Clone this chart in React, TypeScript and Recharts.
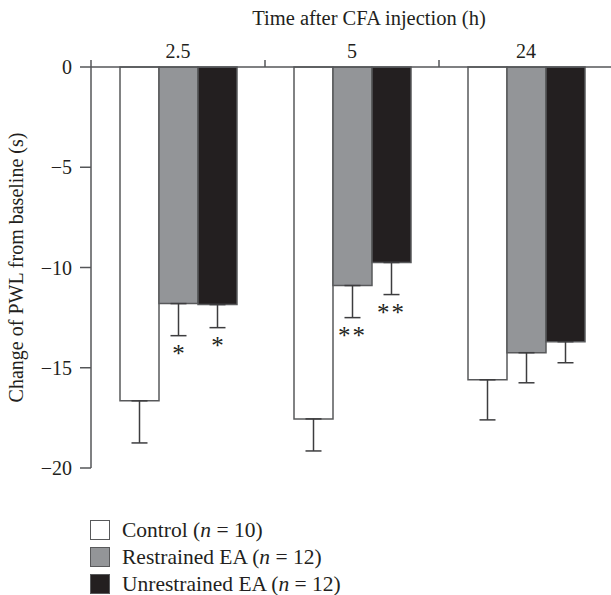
import React from 'react';
import { BarChart, Bar, XAxis, YAxis, ErrorBar, LabelList } from 'recharts';

const times = ['2.5', '5', '24'];
const controlMean = [-16.65, -17.55, -15.6];
const controlSE = [2.1, 1.6, 2.0];
const restrainedMean = [-11.8, -10.9, -14.25];
const restrainedSE = [1.6, 1.6, 1.5];
const unrestrainedMean = [-11.85, -9.75, -13.7];
const unrestrainedSE = [1.15, 1.6, 1.05];
const restrainedSig = ['*', '**', ''];
const unrestrainedSig = ['*', '**', ''];
const yTicks = [0, -5, -10, -15, -20];

const seriesInfo = [
  { key: 'control', label: 'Control', n: 10, fill: '#ffffff' },
  { key: 'restrained', label: 'Restrained EA', n: 12, fill: '#939598' },
  { key: 'unrestrained', label: 'Unrestrained EA', n: 12, fill: '#231f20' },
];

const data = times.map((t, i) => ({
  time: t,
  control: controlMean[i],
  controlErr: [controlSE[i], 0],
  restrained: restrainedMean[i],
  restrainedErr: [restrainedSE[i], 0],
  restrainedSig: restrainedSig[i],
  unrestrained: unrestrainedMean[i],
  unrestrainedErr: [unrestrainedSE[i], 0],
  unrestrainedSig: unrestrainedSig[i],
}));

const FONT = '"Liberation Serif", "DejaVu Serif", serif';
const TEXT = '#231f20';
const AXIS = '#555658';
const BORDER = '#58595b';

const makeSigLabel = (valueKey: string, seArr: number[]) => (props: any) => {
  const { x, y, width, height, value, index } = props;
  if (!value) return null;
  const v = (data as any)[index][valueKey];
  const top = Math.min(y, y + height);
  const bottom = Math.max(y, y + height);
  const pxPerUnit = (bottom - top) / Math.abs(v);
  const errEnd = bottom + seArr[index] * pxPerUnit;
  return (
    <text
      x={x + width / 2}
      y={errEnd + 26}
      textAnchor="middle"
      fontFamily={FONT}
      fontSize={25}
      fill={TEXT}
      letterSpacing={value.length > 1 ? 2 : 0}
    >
      {value}
    </text>
  );
};

const CatTick = (props: any) => {
  const { x, y, payload } = props;
  const half = payload && typeof payload.offset === 'number' ? payload.offset : 87;
  return (
    <g>
      <text x={x} y={y} textAnchor="middle" fontFamily={FONT} fontSize={20} fill={TEXT}>
        {payload.value}
      </text>
      <line x1={x - half} x2={x - half} y1={y + 2} y2={y + 9} stroke={AXIS} strokeWidth={1.5} />
    </g>
  );
};

const fmt = (v: number) => (v < 0 ? '\u2212' + Math.abs(v) : String(v));

export default function App() {
  return (
    <div style={{ position: 'absolute', left: 0, top: 0, width: 611, height: 595, overflow: 'hidden', background: '#fff' }}>
      <BarChart
        width={614}
        height={595}
        data={data}
        margin={{ top: 0, right: 1, left: 0, bottom: 127 }}
        barCategoryGap={29}
        barGap={0}
      >
        <XAxis
          dataKey="time"
          orientation="top"
          height={67}
          tickLine={false}
          tickSize={7}
          axisLine={{ stroke: AXIS, strokeWidth: 1.5 }}
          tick={<CatTick />}
          label={(p: any) => {
            const vb = p.viewBox;
            return (
              <text x={vb.x + vb.width / 2 + 17} y={25} textAnchor="middle" fontFamily={FONT} fontSize={20.5} fill={TEXT}>
                Time after CFA injection (h)
              </text>
            );
          }}
        />
        <YAxis
          domain={[-20, 0]}
          ticks={yTicks}
          width={91}
          tickSize={11}
          tickMargin={8}
          tickFormatter={fmt}
          axisLine={{ stroke: AXIS, strokeWidth: 1.5 }}
          tickLine={{ stroke: AXIS, strokeWidth: 1.5 }}
          tick={{ fill: TEXT, fontFamily: FONT, fontSize: 20 }}
          label={(p: any) => {
            const vb = p.viewBox;
            const cx = 23;
            const cy = vb.y + vb.height / 2;
            return (
              <text x={cx} y={cy} transform={`rotate(-90, ${cx}, ${cy})`} textAnchor="middle" fontFamily={FONT} fontSize={20} fill={TEXT}>
                Change of PWL from baseline (s)
              </text>
            );
          }}
        />
        <Bar dataKey="control" fill="#ffffff" stroke={BORDER} strokeWidth={1.5} isAnimationActive={false}>
          <ErrorBar dataKey="controlErr" width={8} stroke="#3d3d3f" strokeWidth={1.5} direction="y" />
        </Bar>
        <Bar dataKey="restrained" fill="#939598" stroke={BORDER} strokeWidth={1.5} isAnimationActive={false}>
          <ErrorBar dataKey="restrainedErr" width={8} stroke="#3d3d3f" strokeWidth={1.5} direction="y" />
          <LabelList dataKey="restrainedSig" content={makeSigLabel('restrained', restrainedSE)} />
        </Bar>
        <Bar dataKey="unrestrained" fill="#231f20" stroke={BORDER} strokeWidth={1.5} isAnimationActive={false}>
          <ErrorBar dataKey="unrestrainedErr" width={8} stroke="#3d3d3f" strokeWidth={1.5} direction="y" />
          <LabelList dataKey="unrestrainedSig" content={makeSigLabel('unrestrained', unrestrainedSE)} />
        </Bar>
      </BarChart>
      <div style={{ position: 'absolute', left: 90, top: 517, fontFamily: FONT, fontSize: 21.5, color: TEXT }}>
        {seriesInfo.map((s) => (
          <div key={s.key} style={{ display: 'flex', alignItems: 'center', height: 26.7 }}>
            <div style={{ width: 18, height: 18, background: s.fill, border: `1.5px solid ${BORDER}`, flex: 'none' }} />
            <span style={{ marginLeft: 12, whiteSpace: 'nowrap', lineHeight: '20px' }}>
              {s.label} (<i>n</i> = {s.n})
            </span>
          </div>
        ))}
      </div>
    </div>
  );
}
